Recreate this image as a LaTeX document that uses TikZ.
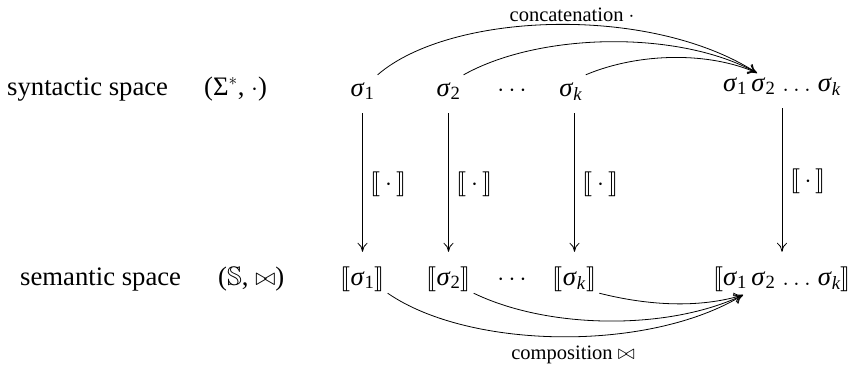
\documentclass[tikz,border=0pt]{standalone}
\usepackage[no-math]{fontspec}
\setmainfont{Liberation Serif}
\usepackage{amssymb}
\usepackage{stmaryrd}
\usetikzlibrary{arrows.meta}
\newcommand\sg[1]{\textit{σ}\textsubscript{#1}}
\newcommand\sgk{\textit{σ}\textsubscript{\textit{k}}}
\begin{document}
\begin{tikzpicture}[x=1pt,y=-1pt,
  every node/.style={font=\fontsize{26.7}{32}\selectfont},
  lbl/.style={anchor=base west, inner sep=0pt},
  cell/.style={anchor=base, inner sep=3pt, text height=18pt, text depth=5pt},
  arr/.style={-{To[length=9pt,width=10pt]}, line width=0.8pt},
  vert/.style={arr, shorten <=9pt, shorten >=12pt},
  maplbl/.style={midway, anchor=west, xshift=8pt, inner sep=0pt},
  small/.style={font=\fontsize{20.5}{24}\selectfont, inner sep=0pt}]
\useasboundingbox (0,0) rectangle (853,367);
% row labels
\node[lbl] (syn) at (7,95) {syntactic space};
\node[lbl] (synalg) at (204,95) {(Σ$^{*}$, $\cdot$)};
\node[lbl] (sem) at (20,285) {semantic space};
\node[lbl] (semalg) at (218,285) {($\mathbb{S}$, $\bowtie$)};
% top row
\node[cell] (s1) at (362.5,96) {\sg{1}};
\node[cell] (s2) at (448.5,96) {\sg{2}};
\node[cell] (sd) at (512,96) {$\cdots$};
\node[cell] (sk) at (571,96) {\sgk};
\node[cell] (big) at (782,91) {\sg{1}\,\sg{2}$\;\ldots\;$\sgk};
% bottom row
\node[cell] (t1) at (362.5,285) {$\llbracket$\sg{1}$\rrbracket$};
\node[cell] (t2) at (448.5,285) {$\llbracket$\sg{2}$\rrbracket$};
\node[cell] (td) at (512,285) {$\cdots$};
\node[cell] (tk) at (574.5,285) {$\llbracket$\sgk$\rrbracket$};
\node[cell] (tbig) at (782,285) {$\llbracket$\sg{1}\,\sg{2}$\;\ldots\;$\sgk$\rrbracket$};
% operation labels
\node[small] (concat) at (572,15) {concatenation $\cdot$};
\node[small] (compo) at (573,355) {composition $\bowtie$};
% vertical maps
\draw[vert] (s1.south) -- (t1.north) node[maplbl] {$\llbracket\,\cdot\,\rrbracket$};
\draw[vert] (s2.south) -- (t2.north) node[maplbl] {$\llbracket\,\cdot\,\rrbracket$};
\draw[vert] (tk.north |- sk.south) -- (tk.north) node[maplbl] {$\llbracket\,\cdot\,\rrbracket$};
\draw[vert] (big.south) -- (tbig.north) node[maplbl] {$\llbracket\,\cdot\,\rrbracket$};
% convergence points
\coordinate (ctop) at (757,73);
\coordinate (cbot) at (743,295);
% concatenation arrows
\draw[arr] (s1.north east) .. controls (450,12) and (650,4) .. (ctop);
\draw[arr] (s2.north east) .. controls (540,32) and (680,30) .. (ctop);
\draw[arr] (sk.north east) .. controls (640,52) and (710,52) .. (ctop);
% composition arrows
\draw[arr] (t1.south east) .. controls (470,350) and (650,352) .. (cbot);
\draw[arr] (t2.south east) .. controls (550,330) and (670,330) .. (cbot);
\draw[arr] (tk.south east) .. controls (650,306) and (700,308) .. (cbot);
\end{tikzpicture}
\end{document}
